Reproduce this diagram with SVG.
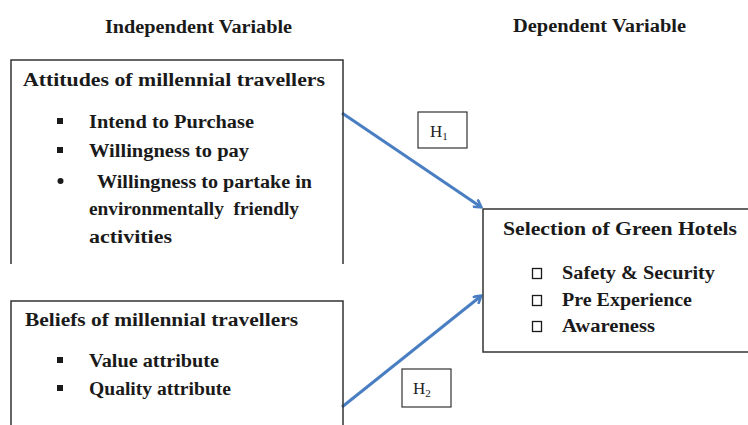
<svg xmlns="http://www.w3.org/2000/svg" width="748" height="425" viewBox="0 0 748 425">
<defs>
<style>
.t{font-family:"Liberation Serif","Times New Roman",serif;font-weight:bold;font-size:18.5px;fill:#1a1a1a}
.h{font-family:"Liberation Serif","Times New Roman",serif;font-size:17px;fill:#222}
.s{font-family:"Liberation Serif","Times New Roman",serif;font-size:11px;fill:#222}
.box{fill:none;stroke:#333;stroke-width:1.5}
.lbl{fill:#fff;stroke:#333;stroke-width:1.2}
.con{fill:none;stroke:#4a7ec2;stroke-width:3}
.bul{fill:#1a1a1a}
.chk{fill:none;stroke:#1a1a1a;stroke-width:1.3}
</style>
<marker id="arr" markerWidth="10" markerHeight="10" refX="8" refY="5" orient="auto" markerUnits="userSpaceOnUse" viewBox="0 0 10 10">
<path d="M1,0.5 L8.5,5 L1,9.5" fill="none" stroke="#4a7ec2" stroke-width="2.6"/>
</marker>
</defs>
<rect width="748" height="425" fill="#fff"/>
<g id="headers">
<text class="t" x="105" y="33" textLength="187" lengthAdjust="spacingAndGlyphs">Independent Variable</text>
<text class="t" x="513" y="32" textLength="173" lengthAdjust="spacingAndGlyphs">Dependent Variable</text>
</g>
<g id="connectors">
<line class="con" x1="342" y1="113" x2="481" y2="207" marker-end="url(#arr)"/>
<line class="con" x1="342" y1="407" x2="481" y2="296" marker-end="url(#arr)"/>
</g>
<g id="attitudes">
<path class="box" d="M11,264 V60 H343 V264"/>
<text class="t" x="23" y="86" textLength="302" lengthAdjust="spacingAndGlyphs">Attitudes of millennial travellers</text>
<rect class="bul" x="57" y="118" width="6" height="6"/>
<text class="t" x="89" y="128" textLength="165" lengthAdjust="spacingAndGlyphs">Intend to Purchase</text>
<rect class="bul" x="57" y="147" width="6" height="6"/>
<text class="t" x="89" y="157" textLength="160" lengthAdjust="spacingAndGlyphs">Willingness to pay</text>
<circle class="bul" cx="60.5" cy="181" r="3"/>
<text class="t" x="97" y="188" textLength="215" lengthAdjust="spacingAndGlyphs">Willingness to partake in</text>
<text class="t" x="89" y="215" textLength="210" lengthAdjust="spacingAndGlyphs" xml:space="preserve">environmentally  friendly</text>
<text class="t" x="89" y="243" textLength="83" lengthAdjust="spacingAndGlyphs">activities</text>
</g>
<g id="beliefs">
<path class="box" d="M11,430 V301 H343 V430"/>
<text class="t" x="25" y="326" textLength="273" lengthAdjust="spacingAndGlyphs">Beliefs of millennial travellers</text>
<rect class="bul" x="57" y="357" width="6" height="6"/>
<text class="t" x="89" y="367" textLength="130" lengthAdjust="spacingAndGlyphs">Value attribute</text>
<rect class="bul" x="57" y="385" width="6" height="6"/>
<text class="t" x="89" y="395" textLength="142" lengthAdjust="spacingAndGlyphs">Quality attribute</text>
</g>
<g id="selection">
<rect class="box" x="483" y="209" width="270" height="143"/>
<text class="t" x="503" y="235" textLength="234" lengthAdjust="spacingAndGlyphs">Selection of Green Hotels</text>
<rect class="chk" x="532.5" y="268.5" width="9" height="10"/>
<text class="t" x="562" y="279" textLength="153" lengthAdjust="spacingAndGlyphs">Safety &amp; Security</text>
<rect class="chk" x="532.5" y="295.5" width="9" height="10"/>
<text class="t" x="562" y="306" textLength="130" lengthAdjust="spacingAndGlyphs">Pre Experience</text>
<rect class="chk" x="532.5" y="321.5" width="9" height="10"/>
<text class="t" x="562" y="332" textLength="93" lengthAdjust="spacingAndGlyphs">Awareness</text>
</g>
<g id="h1">
<rect class="lbl" x="418" y="112" width="49" height="36"/>
<text class="h" x="430" y="137">H<tspan class="s" dy="3">1</tspan></text>
</g>
<g id="h2">
<rect class="lbl" x="402" y="369" width="49" height="38"/>
<text class="h" x="413" y="394">H<tspan class="s" dy="3">2</tspan></text>
</g>
</svg>
